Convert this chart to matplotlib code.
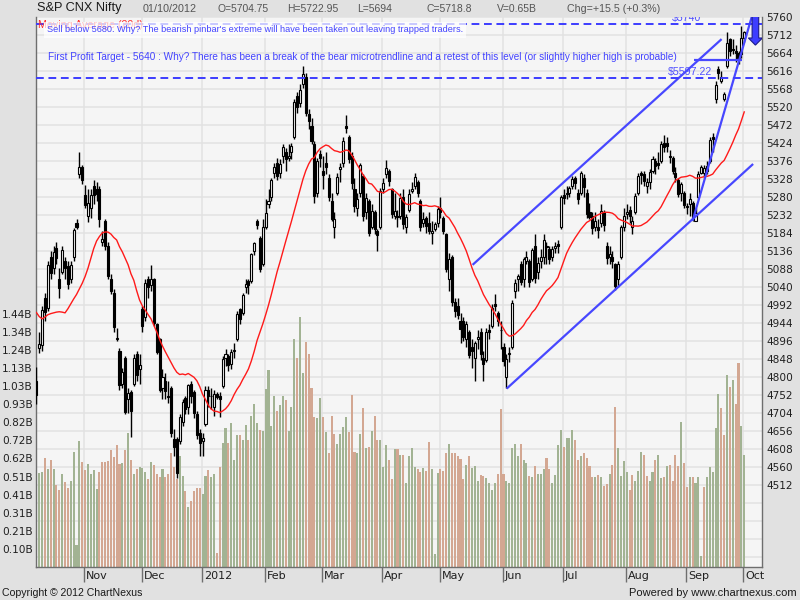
import numpy as np
import matplotlib
matplotlib.use("Agg")
import matplotlib.pyplot as plt
from matplotlib.patches import Polygon
from matplotlib.transforms import blended_transform_factory, ScaledTranslation

# ---------------- data (S&P CNX Nifty daily, 05 Oct 2011 - 01 Oct 2012) ----------------
opens = [
    4790, 4878, 4885, 5010, 4985, 5120, 5090, 5145, 5060, 5080, 5110, 5095, 5060, 5120, 5210, 5340, 5360,
    5285, 5230, 5250, 5310, 5300, 5300, 5160, 5215, 5150, 5060, 5025, 4900, 4870, 4780, 4850, 4740, 4760, 4780, 4860, 4820,
    4980, 4960, 5060, 5045, 5060, 4940, 4900, 4770, 4790, 4750, 4770, 4635, 4635, 4630, 4680, 4745, 4720, 4780, 4760, 4700, 4650,
    4630, 4675, 4765, 4750, 4720, 4755, 4750, 4775, 4850, 4855, 4835, 4870, 4900, 4980, 4970, 5040, 5055, 5055, 5135, 5215, 5170, 5100,
    5200, 5260, 5280, 5345, 5370, 5345, 5390, 5400, 5385, 5400, 5440, 5550, 5530, 5580, 5600, 5500, 5470, 5420, 5290, 5395,
    5350, 5370, 5330, 5270, 5200, 5290, 5355, 5370, 5470, 5440, 5390, 5300, 5250, 5290, 5335, 5240, 5270, 5200, 5240, 5190, 5200,
    5300, 5340, 5350, 5300, 5230, 5230, 5230, 5280, 5200, 5245, 5295, 5310, 5320, 5270, 5210, 5225, 5210, 5185, 5195, 5210,
    5250, 5225, 5180, 5060, 5120, 5000, 4990, 4950, 4950, 4900, 4920, 4880, 4850, 4900, 4920, 4850, 4845, 4925, 4935, 4995, 4970, 4925,
    4880, 4800, 4860, 4880, 5030, 5060, 5100, 5060, 5110, 5110, 5060, 5150, 5080, 5110, 5120, 5150, 5140, 5120, 5145, 5155, 5200,
    5285, 5290, 5290, 5310, 5330, 5290, 5290, 5330, 5290, 5240, 5230, 5200, 5200, 5210, 5240, 5150, 5120, 5120, 5100, 5060, 5120, 5200,
    5235, 5245, 5200, 5240, 5290, 5345, 5340, 5310, 5320, 5350, 5375, 5370, 5375, 5425, 5425, 5390, 5385, 5345, 5325, 5290, 5290,
    5255, 5260, 5265, 5215, 5280, 5345, 5345, 5350, 5375, 5440, 5540, 5620, 5590, 5540, 5630, 5700, 5675, 5670, 5665, 5660, 5704.75,
]
highs = [
    4827, 4920, 4990, 5025, 5110, 5135, 5150, 5160, 5090, 5150, 5120, 5110, 5110, 5197, 5222, 5399, 5365,
    5312, 5300, 5300, 5325, 5320, 5310, 5190, 5220, 5160, 5075, 5035, 4930, 4877, 4825, 4855, 4770, 4765, 4860, 4870, 4860,
    4990, 5060, 5070, 5099, 5065, 4945, 4905, 4820, 4810, 4790, 4775, 4660, 4640, 4700, 4740, 4750, 4780, 4790, 4765, 4710, 4660,
    4650, 4775, 4775, 4770, 4765, 4760, 4760, 4855, 4875, 4860, 4875, 4890, 4975, 4985, 5025, 5060, 5060, 5131, 5160, 5220, 5175, 5220,
    5275, 5300, 5330, 5370, 5385, 5380, 5420, 5410, 5420, 5425, 5540, 5560, 5580, 5630, 5610, 5515, 5490, 5430, 5385, 5405,
    5390, 5400, 5340, 5290, 5240, 5345, 5370, 5440, 5499, 5445, 5400, 5330, 5290, 5370, 5340, 5290, 5275, 5260, 5245, 5195, 5305,
    5330, 5378, 5355, 5305, 5290, 5245, 5290, 5300, 5235, 5300, 5320, 5345, 5325, 5275, 5240, 5230, 5240, 5215, 5212, 5255,
    5280, 5230, 5185, 5130, 5125, 5010, 5010, 4970, 4960, 4950, 4925, 4900, 4895, 4925, 4930, 4870, 4930, 4940, 4995, 5020, 4975, 4950,
    4890, 4860, 4880, 5005, 5060, 5075, 5110, 5120, 5135, 5115, 5145, 5180, 5120, 5140, 5180, 5160, 5150, 5150, 5160, 5165, 5286,
    5300, 5310, 5310, 5335, 5335, 5300, 5350, 5340, 5300, 5265, 5240, 5240, 5220, 5260, 5245, 5160, 5150, 5135, 5105, 5110, 5205, 5250,
    5260, 5255, 5230, 5290, 5345, 5350, 5350, 5330, 5355, 5390, 5385, 5400, 5430, 5445, 5440, 5405, 5390, 5360, 5330, 5320, 5295,
    5265, 5290, 5270, 5250, 5350, 5365, 5365, 5375, 5440, 5450, 5590, 5630, 5615, 5560, 5720, 5705, 5700, 5685, 5670, 5735, 5722.95,
]
lows = [
    4728, 4864, 4870, 4950, 4975, 5060, 5075, 5100, 5010, 5075, 5060, 5035, 5050, 5110, 5195, 5330, 5315,
    5250, 5213, 5225, 5262, 5270, 5200, 5150, 5139, 5060, 5020, 4920, 4895, 4765, 4770, 4700, 4705, 4640, 4775, 4790, 4780,
    4920, 4950, 5010, 5030, 4935, 4860, 4760, 4740, 4740, 4730, 4640, 4590, 4531, 4620, 4670, 4700, 4700, 4730, 4690, 4635, 4590,
    4590, 4670, 4720, 4715, 4695, 4740, 4693, 4770, 4830, 4815, 4820, 4850, 4895, 4940, 4965, 5025, 5020, 5051, 5125, 5195, 5080, 5095,
    5195, 5250, 5270, 5330, 5325, 5330, 5370, 5350, 5375, 5380, 5435, 5505, 5520, 5570, 5495, 5460, 5420, 5265, 5280, 5360,
    5300, 5340, 5270, 5215, 5171, 5285, 5320, 5360, 5450, 5370, 5300, 5240, 5230, 5280, 5215, 5220, 5175, 5195, 5180, 5135, 5195,
    5290, 5330, 5310, 5225, 5220, 5200, 5220, 5195, 5185, 5240, 5290, 5300, 5280, 5190, 5200, 5185, 5180, 5155, 5190, 5200,
    5225, 5180, 5080, 5030, 4990, 4960, 4955, 4890, 4895, 4880, 4850, 4825, 4790, 4875, 4845, 4790, 4840, 4900, 4930, 4975, 4935, 4875,
    4830, 4770, 4840, 4875, 5010, 5030, 5045, 5040, 5100, 5040, 5055, 5050, 5060, 5090, 5100, 5100, 5100, 5110, 5130, 5130, 5195,
    5260, 5275, 5280, 5300, 5300, 5260, 5285, 5280, 5225, 5220, 5180, 5190, 5170, 5200, 5190, 5100, 5100, 5090, 5032, 5040, 5115, 5190,
    5220, 5210, 5180, 5235, 5285, 5315, 5310, 5290, 5300, 5345, 5340, 5355, 5370, 5400, 5400, 5370, 5340, 5320, 5280, 5270, 5250,
    5235, 5230, 5215, 5215, 5275, 5340, 5330, 5340, 5370, 5400, 5530, 5595, 5585, 5535, 5625, 5655, 5660, 5640, 5635, 5650, 5694,
]
closes = [
    4751, 4888, 4979, 4974, 5099, 5077, 5132, 5118, 5038, 5139, 5091, 5049, 5098, 5191, 5201, 5360, 5326,
    5258, 5265, 5284, 5284, 5289, 5221, 5168, 5148, 5068, 5030, 4934, 4905, 4779, 4812, 4706, 4756, 4710, 4851, 4805, 4832,
    4936, 5050, 5039, 5062, 4944, 4867, 4764, 4800, 4763, 4746, 4651, 4613, 4544, 4693, 4733, 4714, 4779, 4750, 4705, 4646, 4624,
    4637, 4765, 4749, 4749, 4754, 4746, 4742, 4849, 4860, 4831, 4866, 4873, 4967, 4955, 5018, 5048, 5046, 5127, 5158, 5204, 5087, 5199,
    5236, 5269, 5326, 5361, 5335, 5368, 5412, 5381, 5390, 5417, 5532, 5521, 5564, 5607, 5505, 5483, 5429, 5282, 5375, 5385,
    5339, 5359, 5280, 5222, 5220, 5333, 5359, 5430, 5463, 5380, 5318, 5257, 5274, 5364, 5228, 5278, 5184, 5243, 5194, 5178, 5296,
    5318, 5358, 5322, 5234, 5243, 5227, 5276, 5207, 5226, 5289, 5300, 5332, 5290, 5200, 5222, 5202, 5189, 5190, 5209, 5248,
    5239, 5188, 5087, 5114, 4999, 4975, 4965, 4928, 4907, 4942, 4858, 4870, 4891, 4906, 4860, 4835, 4921, 4921, 4985, 4990, 4950, 4924,
    4842, 4848, 4863, 4997, 5050, 5069, 5054, 5115, 5121, 5054, 5139, 5064, 5103, 5120, 5165, 5146, 5114, 5141, 5149, 5149, 5279,
    5278, 5287, 5303, 5327, 5317, 5275, 5345, 5306, 5235, 5227, 5197, 5216, 5192, 5242, 5205, 5117, 5128, 5109, 5043, 5100, 5199, 5229,
    5240, 5228, 5215, 5282, 5336, 5338, 5322, 5320, 5347, 5380, 5362, 5366, 5421, 5412, 5415, 5387, 5350, 5334, 5287, 5315, 5258,
    5253, 5274, 5225, 5238, 5342, 5359, 5358, 5363, 5431, 5435, 5578, 5611, 5601, 5554, 5691, 5669, 5673, 5663, 5650, 5703, 5718.8,
]
volumes_b = [
    0.524, 0.533, 0.54, 0.622, 0.558, 0.609, 0.558, 0.467, 0.438, 0.53,
    0.485, 0.451, 0.49, 0.656, 0.125, 0.717, 0.596, 0.55, 0.586, 0.53,
    0.55, 0.444, 0.54, 0.596, 0.60, 0.605, 0.666, 0.628, 0.694, 0.586,
    0.593, 0.666, 0.764, 0.609, 0.53, 0.56, 0.57, 0.565, 0.54, 0.50,
    0.60, 0.58, 0.53, 0.51, 0.556, 0.51, 0.53, 0.648, 0.57, 0.50,
    0.63, 0.52, 0.43, 0.343, 0.376, 0.43, 0.45, 0.45, 0.414, 0.52,
    0.55, 0.51, 0.53, 0.08, 0.57, 0.704, 0.79, 0.704, 0.82, 0.61,
    0.75, 0.75, 0.72, 0.81, 0.72, 0.86, 0.93,
    0.818, 0.78, 0.775, 1.013, 1.12, 0.80, 0.973, 0.888, 0.92, 0.973,
    0.95, 0.775, 0.91, 1.297, 1.19, 1.424, 1.106, 1.28, 1.215, 1.02,
    0.855, 0.85, 0.964, 0.855, 0.77, 0.647, 0.86, 0.757, 0.698, 0.755,
    0.795, 0.855, 0.766, 0.979, 0.656, 0.647, 0.757, 0.906, 0.679, 0.685,
    0.774, 0.86, 0.72, 0.72, 0.571, 0.693, 0.608, 0.499, 0.673, 0.67,
    0.64, 0.64, 0.48, 0.63, 0.679, 0.571, 0.56, 0.54, 0.565, 0.544,
    0.71, 0.56, 0.072, 0.537, 0.56, 0.545, 0.647, 0.70, 0.647, 0.647,
    0.63, 0.617, 0.50, 0.58, 0.634, 0.563, 0.576, 0.49, 0.524, 0.52,
    0.505, 0.48, 0.44, 0.476, 0.53, 0.899, 0.53, 0.49, 0.48, 0.679,
    0.70, 0.632, 0.70, 0.61, 0.59, 0.52, 0.51, 0.576, 0.53, 0.53,
    0.56, 0.62, 0.56, 0.476, 0.524, 0.693, 0.78, 0.685, 0.733, 0.736,
    0.78, 0.72, 0.608, 0.634, 0.647, 0.62, 0.576, 0.51, 0.51, 0.524,
    0.515, 0.463, 0.47, 0.53, 0.58, 0.911, 0.679, 0.52, 0.602, 0.54,
    0.438, 0.524, 0.49, 0.544, 0.656, 0.64, 0.52, 0.49, 0.54, 0.608,
    0.64, 0.505, 0.515, 0.576, 0.58, 0.49, 0.64, 0.576, 0.823, 0.594,
    0.457, 0.51, 0.51, 0.48, 0.51, 0.063, 0.457, 0.51, 0.571, 0.54,
    0.79, 0.985, 0.903, 0.75, 1.093, 1.027, 1.064, 0.925, 1.162, 0.80,
    0.64,
]
# 20-day moving average values for the first bars (before 20 closes exist)
ma_head = [4972, 4961, 4955, 4960, 4966, 4969, 4971, 4973, 4974, 4973,
           4971, 4982, 4995, 5008, 5020, 5035, 5050, 5068, 5090]
MA_LEN = 20

month_labels = ["Nov", "Dec", "2012", "Feb", "Mar", "Apr", "May", "Jun", "Jul", "Aug", "Sep", "Oct"]
month_pos = [16.7, 36.7, 57.7, 79.7, 99.7, 120.7, 140.7, 162.7, 183.7, 205.7, 226.7, 246.7]
price_ticks = list(range(4512, 5761, 48))
grid_prices = list(range(4320, 5761, 48))
vol_step = 0.103
vol_labels = ["0.10B", "0.21B", "0.31B", "0.41B", "0.51B", "0.62B", "0.72B",
              "0.82B", "0.93B", "1.03B", "1.13B", "1.24B", "1.34B", "1.44B"]

sell_level = 5740
target_level = 5597.22
profit_level = 5645
upper_channel = ([152.2, 239.1], [5099, 5701])
lower_channel = ([164.1, 250.1], [4769, 5368])
steep_line = ([229.0, 249.8], [5217, 5765])
profit_line = ([229.4, 246.1], [profit_level, profit_level])

header = [("S&P CNX Nifty", 37, 122, "#1a1a1a"), ("01/10/2012", 143, 197, "#555555"),
          ("O=5704.75", 217, 268, "#555555"), ("H=5722.95", 287, 338, "#555555"),
          ("L=5694", 357, 392, "#555555"), ("C=5718.8", 427, 472, "#555555"),
          ("V=0.65B", 497, 537, "#555555"), ("Chg=+15.5 (+0.3%)", 567, 660, "#555555")]
note1 = "Sell below 5680. Why? The bearish pinbar's extreme will have been taken out leaving trapped traders."
note2 = ("First Profit Target - 5640 : Why? There has been a break of the bear microtrendline "
         "and a retest of this level (or slightly higher high is probable)")

# ---------------- figure ----------------
W, H = 800, 600
fig = plt.figure(figsize=(8, 6), dpi=100)
fig.patch.set_facecolor("#e1e1e1")
L_, R_, T_, B_ = 35.5, 762, 17, 567
axv = fig.add_axes([L_ / W, 1 - B_ / H, (R_ - L_) / W, (B_ - T_) / H])
axv.set_facecolor("#f5f5f5")
axp = axv.twinx()
axp.patch.set_visible(False)

o = np.array(opens, float); h = np.array(highs, float)
l = np.array(lows, float); c = np.array(closes, float)
v = np.array(volumes_b, float)
n = len(c)
x = np.arange(n)

axv.set_xlim(-0.31, 253.2)
axv.set_ylim(0, 3.13)
axp.set_ylim(4293.3, 5760)

# grid (behind volume)
gcol = "#e2e2e2"
trans = blended_transform_factory(axv.transAxes, axp.transData)
for p in grid_prices:
    axv.plot([0, 1], [p, p], transform=trans, color=gcol, lw=1.1, zorder=0.5)
for m in month_pos:
    axv.axvline(m, color=gcol, lw=1.1, zorder=0.5)

# volume
up = np.r_[True, c[1:] >= c[:-1]]
vcol = np.where(up, "#a2b393", "#d3a792")
axv.bar(x, v, width=0.72, color=vcol, zorder=1, linewidth=0)

# candles
axp.vlines(x, l, h, color="black", lw=1.0, zorder=2)
bull = c >= o
body = np.maximum(np.abs(c - o), 1.5)
axp.bar(x, body, bottom=np.minimum(o, c), width=0.72,
        color=np.where(bull, "#f8f8f8", "black"), edgecolor="black", linewidth=0.8, zorder=3)

# moving average
ma = np.full(n, np.nan)
ma[:len(ma_head)] = ma_head
for i in range(MA_LEN - 1, n):
    ma[i] = c[i - MA_LEN + 1:i + 1].mean()
axp.plot(x, ma, color="#ff1a1a", lw=1.0, zorder=4)

# drawn lines
blue = "#4747ff"
for xs, ys in (upper_channel, lower_channel, steep_line, profit_line):
    axp.plot(xs, ys, color=blue, lw=1.6, zorder=5, solid_capstyle="butt")
for lvl in (sell_level, target_level):
    axp.axhline(lvl, color="#3c3cff", lw=1.4, dashes=(4, 2.4), zorder=5)

# arrow
arr_x, shaft_hw, head_hw = 250.9, 1.15, 2.45
arr_top, arr_base, arr_tip = 5768, 5704, 5685
axp.add_patch(Polygon([(arr_x - shaft_hw, arr_top), (arr_x + shaft_hw, arr_top),
                       (arr_x + shaft_hw, arr_base), (arr_x + head_hw, arr_base),
                       (arr_x, arr_tip), (arr_x - head_hw, arr_base),
                       (arr_x - shaft_hw, arr_base)], closed=True,
                      facecolor="#3d3dff", edgecolor="#1c1c8a", lw=0.8, zorder=6))

# level labels
t5740 = axp.text(227.0, sell_level + 3, "\\$5740", ha="center", va="bottom",
                 color="#5050ff", fontsize=8, family="Liberation Sans", zorder=6, clip_on=True)
t5597 = axp.text(228.0, target_level + 2, "\\$5597.22", ha="center", va="bottom",
                 color="#5050ff", fontsize=8, family="Liberation Sans", zorder=6)

# axes styling
for s in axp.spines.values():
    s.set_visible(False)
axv.spines["top"].set_visible(False)
for k in ("left", "right", "bottom"):
    axv.spines[k].set_color("#6e6e6e")
    axv.spines[k].set_linewidth(1.0)

axp.set_yticks(price_ticks)
axp.set_yticklabels([str(t) for t in price_ticks])
axp.tick_params(axis="y", length=0, pad=3, labelsize=7.6, labelcolor="#202020")
axv.set_yticks([vol_step * (k + 1) for k in range(len(vol_labels))])
axv.set_yticklabels(vol_labels)
axv.tick_params(axis="y", length=0, pad=2, labelsize=7.6, labelcolor="#202020")
axv.set_xticks(month_pos)
axv.set_xticklabels(month_labels)
axv.tick_params(axis="x", length=11, width=1, color="#6e6e6e", pad=-8.2,
                labelsize=8, labelcolor="#202020")
for lbl in axv.get_xticklabels():
    lbl.set_horizontalalignment("left")
    lbl.set_transform(lbl.get_transform() + ScaledTranslation(1.5 / 72, 0, fig.dpi_scale_trans))

axv.set_xlim(-0.31, 253.2)
axv.set_ylim(0, 3.13)
axp.set_ylim(4293.3, 5760)


def fx(px):
    return px / W


def fy(py):
    return 1 - py / H


fits = []
for txt, x0, x1, col in header:
    t = fig.text(fx(x0), fy(8.5), txt, ha="left", va="center", color=col,
                 family="Liberation Sans", fontsize=9)
    fits.append((t, x1 - x0))

leg = fig.text(fx(38), fy(25), "Moving Average (20d)", ha="left", va="center",
               color="#ff2a2a", family="Liberation Sans", fontsize=8, zorder=10)
fits.append((leg, 105))
n1 = fig.text(fx(47), fy(30), note1, ha="left", va="center", color="#4343ff",
              family="Liberation Sans", fontsize=7, zorder=11,
              bbox=dict(facecolor="#ffffff", alpha=0.72, edgecolor="none", pad=2.5))
fits.append((n1, 414))
n2 = fig.text(fx(48), fy(57), note2, ha="left", va="center", color="#4343ff",
              family="Liberation Sans", fontsize=7, zorder=11)
fits.append((n2, 629))
fits.append((t5740, 29))
fits.append((t5597, 44))
cp = fig.text(fx(2), fy(593), "Copyright \u00a9 2012 ChartNexus", ha="left", va="center",
              color="#1a1a1a", family="Liberation Sans", fontsize=8)
fits.append((cp, 142))
pw = fig.text(fx(797), fy(593), "Powered by www.chartnexus.com", ha="right", va="center",
              color="#1a1a1a", family="Liberation Sans", fontsize=8)
fits.append((pw, 167))

fig.canvas.draw()
r = fig.canvas.get_renderer()
for t, target in fits:
    w = t.get_window_extent(r).width
    if w > 0:
        t.set_fontsize(t.get_fontsize() * target / w)

fig.savefig("out.png", dpi=100, facecolor=fig.get_facecolor())
